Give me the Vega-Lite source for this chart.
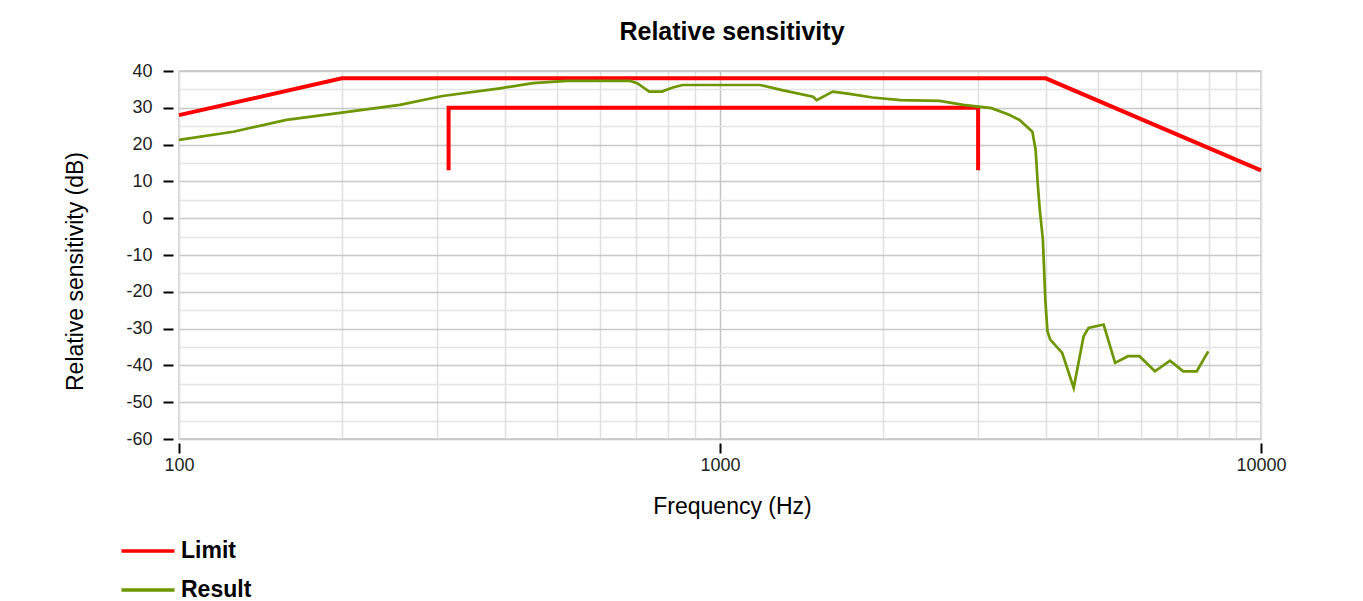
{
  "$schema": "https://vega.github.io/schema/vega-lite/v6.json",
  "width": 1082,
  "height": 368,
  "autosize": {"type": "none"},
  "padding": {"left": 179, "top": 71, "right": 102, "bottom": 162},
  "background": "white",
  "title": {
    "text": "Relative sensitivity",
    "font": "Liberation Sans",
    "fontSize": 25,
    "fontWeight": "bold",
    "color": "#000000",
    "anchor": "middle",
    "frame": "group",
    "baseline": "alphabetic",
    "offset": -3,
    "dx": 12
  },
  "data": {
    "values": [
      {"series": "Limit", "seg": "L1", "i": 1, "f": 100, "db": 28},
      {"series": "Limit", "seg": "L1", "i": 2, "f": 200, "db": 38},
      {"series": "Limit", "seg": "L1", "i": 3, "f": 4000, "db": 38},
      {"series": "Limit", "seg": "L1", "i": 4, "f": 10000, "db": 13},
      {"series": "Limit", "seg": "L2", "i": 1, "f": 315, "db": 13},
      {"series": "Limit", "seg": "L2", "i": 2, "f": 315, "db": 30},
      {"series": "Limit", "seg": "L2", "i": 3, "f": 3000, "db": 30},
      {"series": "Limit", "seg": "L2", "i": 4, "f": 3000, "db": 13},
      {"series": "Result", "seg": "R", "i": 1, "f": 100, "db": 21.3},
      {"series": "Result", "seg": "R", "i": 2, "f": 126, "db": 23.5},
      {"series": "Result", "seg": "R", "i": 3, "f": 158, "db": 26.7},
      {"series": "Result", "seg": "R", "i": 4, "f": 200, "db": 28.7},
      {"series": "Result", "seg": "R", "i": 5, "f": 256, "db": 30.8},
      {"series": "Result", "seg": "R", "i": 6, "f": 307, "db": 33.2},
      {"series": "Result", "seg": "R", "i": 7, "f": 392, "db": 35.3},
      {"series": "Result", "seg": "R", "i": 8, "f": 451, "db": 36.7},
      {"series": "Result", "seg": "R", "i": 9, "f": 522, "db": 37.3},
      {"series": "Result", "seg": "R", "i": 10, "f": 682, "db": 37.3},
      {"series": "Result", "seg": "R", "i": 11, "f": 703, "db": 36.7},
      {"series": "Result", "seg": "R", "i": 12, "f": 740, "db": 34.4},
      {"series": "Result", "seg": "R", "i": 13, "f": 781, "db": 34.4},
      {"series": "Result", "seg": "R", "i": 14, "f": 818, "db": 35.5},
      {"series": "Result", "seg": "R", "i": 15, "f": 853, "db": 36.2},
      {"series": "Result", "seg": "R", "i": 16, "f": 1186, "db": 36.2},
      {"series": "Result", "seg": "R", "i": 17, "f": 1302, "db": 34.8},
      {"series": "Result", "seg": "R", "i": 18, "f": 1486, "db": 33.0},
      {"series": "Result", "seg": "R", "i": 19, "f": 1509, "db": 32.1},
      {"series": "Result", "seg": "R", "i": 20, "f": 1616, "db": 34.4},
      {"series": "Result", "seg": "R", "i": 21, "f": 1735, "db": 33.8},
      {"series": "Result", "seg": "R", "i": 22, "f": 1914, "db": 32.8},
      {"series": "Result", "seg": "R", "i": 23, "f": 2157, "db": 32.1},
      {"series": "Result", "seg": "R", "i": 24, "f": 2545, "db": 31.9},
      {"series": "Result", "seg": "R", "i": 25, "f": 2815, "db": 30.8},
      {"series": "Result", "seg": "R", "i": 26, "f": 3175, "db": 29.9},
      {"series": "Result", "seg": "R", "i": 27, "f": 3424, "db": 28.1},
      {"series": "Result", "seg": "R", "i": 28, "f": 3578, "db": 26.7},
      {"series": "Result", "seg": "R", "i": 29, "f": 3779, "db": 23.5},
      {"series": "Result", "seg": "R", "i": 30, "f": 3832, "db": 18.6},
      {"series": "Result", "seg": "R", "i": 31, "f": 3866, "db": 9.5},
      {"series": "Result", "seg": "R", "i": 32, "f": 3900, "db": 2.3},
      {"series": "Result", "seg": "R", "i": 33, "f": 3952, "db": -5.8},
      {"series": "Result", "seg": "R", "i": 34, "f": 3993, "db": -22.1},
      {"series": "Result", "seg": "R", "i": 35, "f": 4029, "db": -30.7},
      {"series": "Result", "seg": "R", "i": 36, "f": 4078, "db": -33.0},
      {"series": "Result", "seg": "R", "i": 37, "f": 4290, "db": -36.6},
      {"series": "Result", "seg": "R", "i": 38, "f": 4506, "db": -46.1},
      {"series": "Result", "seg": "R", "i": 39, "f": 4700, "db": -32.1},
      {"series": "Result", "seg": "R", "i": 40, "f": 4800, "db": -29.8},
      {"series": "Result", "seg": "R", "i": 41, "f": 5118, "db": -28.9},
      {"series": "Result", "seg": "R", "i": 42, "f": 5375, "db": -39.3},
      {"series": "Result", "seg": "R", "i": 43, "f": 5676, "db": -37.5},
      {"series": "Result", "seg": "R", "i": 44, "f": 5962, "db": -37.5},
      {"series": "Result", "seg": "R", "i": 45, "f": 6367, "db": -41.6},
      {"series": "Result", "seg": "R", "i": 46, "f": 6790, "db": -38.7},
      {"series": "Result", "seg": "R", "i": 47, "f": 7182, "db": -41.6},
      {"series": "Result", "seg": "R", "i": 48, "f": 7608, "db": -41.6},
      {"series": "Result", "seg": "R", "i": 49, "f": 7988, "db": -36.2}
    ]
  },
  "mark": {"type": "line", "strokeCap": "butt", "strokeJoin": "miter"},
  "encoding": {
    "x": {
      "field": "f",
      "type": "quantitative",
      "scale": {"type": "log", "domain": [100, 10000], "nice": false},
      "axis": {
        "title": "Frequency (Hz)",
        "values": [100, 200, 300, 400, 500, 600, 700, 800, 900, 1000, 2000, 3000, 4000, 5000, 6000, 7000, 8000, 9000, 10000],
        "labelExpr": "(datum.value == 100 || datum.value == 1000 || datum.value == 10000) ? '' + datum.value : ''",
        "grid": true,
        "gridColor": {"condition": {"test": "datum.value == 1000", "value": "#c4c4c4"}, "value": "#e0e0e0"},
        "gridWidth": 1.5,
        "tickOpacity": {"condition": {"test": "datum.value == 100 || datum.value == 1000 || datum.value == 10000", "value": 1}, "value": 0},
        "domain": false,
        "offset": 4,
        "tickSize": 10,
        "tickWidth": 2,
        "tickColor": "#000000",
        "labelPadding": 3,
        "labelFont": "Liberation Sans",
        "labelFontSize": 18,
        "labelColor": "#222222",
        "labelFlush": false,
        "labelOverlap": false,
        "titleFont": "Liberation Sans",
        "titleFontSize": 23,
        "titleFontWeight": "normal",
        "titleColor": "#000000",
        "titleBaseline": "alphabetic",
        "titleX": 553,
        "titleY": 70
      }
    },
    "y": {
      "field": "db",
      "type": "quantitative",
      "scale": {"domain": [-60, 40], "nice": false, "zero": false},
      "axis": {
        "title": "Relative sensitivity (dB)",
        "values": [-60, -55, -50, -45, -40, -35, -30, -25, -20, -15, -10, -5, 0, 5, 10, 15, 20, 25, 30, 35, 40],
        "labelExpr": "datum.value % 10 === 0 ? '' + datum.value : ''",
        "grid": true,
        "gridColor": {"condition": {"test": "datum.value % 10 === 0", "value": "#c8c8c8"}, "value": "#e4e4e4"},
        "gridWidth": 1.5,
        "tickOpacity": {"condition": {"test": "datum.value % 10 === 0", "value": 1}, "value": 0},
        "domain": false,
        "offset": 6,
        "tickSize": 10,
        "tickWidth": 2,
        "tickColor": "#000000",
        "labelPadding": 11,
        "labelFont": "Liberation Sans",
        "labelFontSize": 18,
        "labelColor": "#222222",
        "labelOverlap": false,
        "labelFlush": false,
        "titleFont": "Liberation Sans",
        "titleFontSize": 23,
        "titleFontWeight": "normal",
        "titleColor": "#000000",
        "titleBaseline": "alphabetic",
        "titleX": -91,
        "titleY": 200
      }
    },
    "color": {
      "field": "series",
      "type": "nominal",
      "scale": {"domain": ["Limit", "Result"], "range": ["#ff0000", "#6e9600"]},
      "legend": {
        "title": null,
        "orient": "none",
        "legendX": -46,
        "legendY": 465,
        "symbolType": "M-2,0H2",
        "symbolSize": 702,
        "symbolStrokeWidth": 3.5,
        "labelFont": "Liberation Sans",
        "labelFontSize": 23,
        "labelFontWeight": "bold",
        "labelColor": "#000000",
        "labelOffset": 18,
        "rowPadding": 12
      }
    },
    "strokeWidth": {
      "condition": {"test": "datum.series === 'Limit'", "value": 4},
      "value": 2.7
    },
    "detail": {"field": "seg"},
    "order": {"field": "i", "type": "quantitative"}
  },
  "config": {
    "view": {"stroke": "#c8c8c8", "strokeWidth": 1.5}
  }
}
